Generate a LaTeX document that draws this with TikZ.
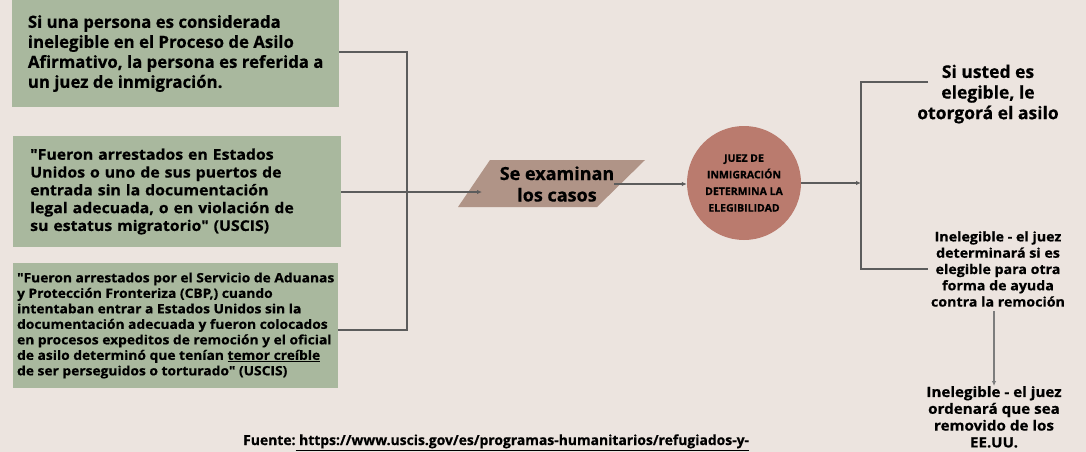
\documentclass[tikz,border=0pt]{standalone}
\usepackage{fontspec}
\setmainfont{Open Sans}[Ligatures=TeXOff, BoldFeatures={FakeBold=0.6}]
\newfontfamily\ancha{Open Sans}[Ligatures=TeXOff, FakeStretch=1.07, BoldFeatures={FakeBold=0.6}]
\usepackage{tikz}
\usetikzlibrary{arrows.meta}

\definecolor{fondo}{HTML}{ECE4DF}
\definecolor{verde}{HTML}{A9B89E}
\definecolor{rosa}{HTML}{B09487}
\definecolor{terracota}{HTML}{BA7B6E}
\definecolor{gris}{HTML}{5C5C5C}

\begin{document}
\begin{tikzpicture}[x=1pt, y=-1pt,
            caja/.style={fill=verde, anchor=west, align=left, inner ysep=0pt},
            linea/.style={draw=gris, line width=1.2pt},
            flecha/.style={linea, -{Latex[length=5pt,width=4.5pt]}},
            texto/.style={align=center, inner sep=0pt},]

        \fill[fondo] (0,0) rectangle (1086,452);
        \useasboundingbox (0,0) rectangle (1086,452);

        % Cajas de entrada
        \node[caja, minimum height=107pt, minimum width=327pt, inner xsep=0pt,
              font=\bfseries\fontsize{16.8}{20}\selectfont] (caja1) at (12, 53.5)
            {Si una persona es considerada\\inelegible en el Proceso de Asilo\\Afirmativo, la persona es referida a\\un juez de inmigración.};
        \node[caja, minimum height=111pt, text width=294pt, inner xsep=17pt,
              font=\ancha\bfseries\fontsize{14.8}{17.8}\selectfont] (caja2) at (13, 191.5)
            {"Fueron arrestados en Estados\\Unidos o uno de sus puertos de\\entrada sin la documentación\\legal adecuada, o en violación de\\su estatus migratorio" (USCIS)};
        \node[caja, minimum height=125pt, minimum width=325pt, inner xsep=0pt,
              font=\ancha\bfseries\fontsize{12.9}{15.5}\selectfont] (caja3) at (13, 325.5)
            {"Fueron arrestados por el Servicio de Aduanas\\y Protección Fronteriza (CBP,) cuando\\intentaban entrar a Estados Unidos sin la\\documentación adecuada y fueron colocados\\en procesos expeditos de remoción y el oficial\\de asilo determinó que tenían \underline{temor creíble}\\de ser perseguidos o torturado" (USCIS)};

        % Examen y juez
        \fill[rosa] (458,207) -- (490,160) -- (645,160) -- (597,207) -- cycle;
        \node[texto, font=\bfseries\fontsize{18}{21.5}\selectfont] (examen) at (557,184) {Se examinan\\los casos};
        \node[circle, fill=terracota, minimum size=114pt, texto,
              font=\bfseries\fontsize{10.5}{16.6}\selectfont] (juez) at (744,183)
            {JUEZ DE\\INMIGRACIÓN\\DETERMINA LA\\ELEGIBILIDAD};

        % Resultados
        \node[texto, font=\bfseries\fontsize{17.5}{20.6}\selectfont] (elegible) at (988,94)
            {Si usted es\\elegible, le\\otorgorá el asilo};
        \node[texto, font=\ancha\bfseries\fontsize{13.3}{16.3}\selectfont] (inelegible1) at (998,269)
            {Inelegible - el juez\\determinará si es\\elegible para otra\\forma de ayuda\\contra la remoción};
        \node[texto, font=\ancha\bfseries\fontsize{14.2}{16.8}\selectfont, anchor=north] (inelegible2) at (994,386)
            {Inelegible - el juez\\ordenará que sea\\removido de los\\EE.UU.};

        % Fuente
        \node[anchor=base west, inner sep=0pt, font=\bfseries\fontsize{13.9}{16}\selectfont] (fuente) at (243,445)
            {Fuente:\underline{\ https://www.uscis.gov/es/programas-humanitarios/refugiados-y-}};

        % Conectores
        \coordinate (colector1) at (407,52);
        \coordinate (colector2) at (407,192);
        \coordinate (colector3) at (407,330);
        \coordinate (entrada)   at (482,192);
        \coordinate (bifurca)   at (861,183);
        \coordinate (rama1)     at (928,82);
        \coordinate (rama2)     at (928,269);

        \draw[linea] (caja1.east |- colector1) -- (colector1) -- (colector3) -- (caja3.east |- colector3);
        \draw[linea] (caja2.east |- colector2) -- (colector2);
        \draw[flecha] (colector2) -- (entrada);
        \draw[flecha] (examen.east) -- (examen.east -| juez.west);
        \draw[flecha] (juez.east) -- (bifurca);
        \draw[linea] (rama1) -- (rama1 -| bifurca) -- (rama2 -| bifurca) -- (rama2);
        \draw[flecha, draw=gris!80] (inelegible2.north |- inelegible1.south) ++(0,4) -- (inelegible2.north);
    \end{tikzpicture}
\end{document}
